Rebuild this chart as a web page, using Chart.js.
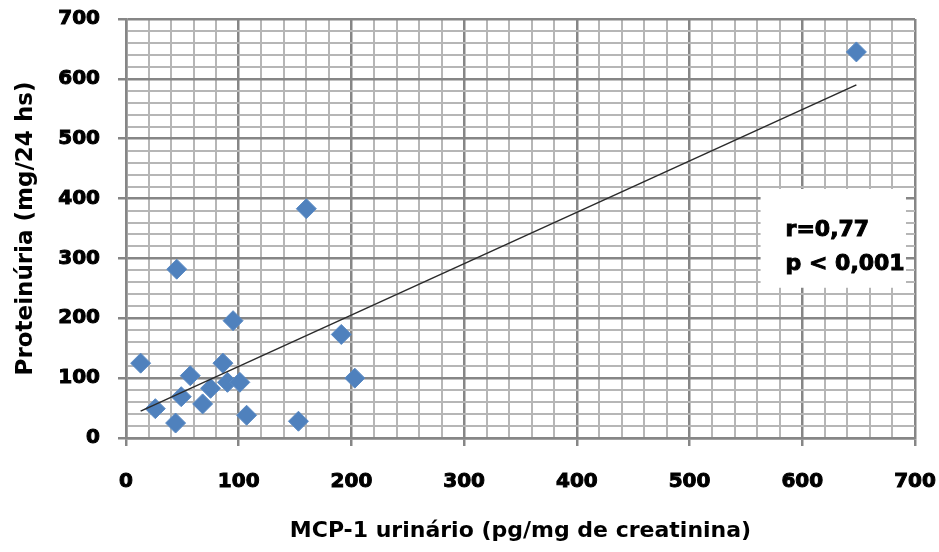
<!DOCTYPE html>
<html>
<head>
<meta charset="utf-8">
<script src="https://cdn.jsdelivr.net/npm/chart.js@4"></script>
<style>
  body { margin: 0; background: #fff; }
  #wrap { width: 939px; height: 552px; }
</style>
</head>
<body>
<div id="wrap"><canvas id="myScatter" width="939" height="552"></canvas></div>
<script>
// MCP-1 urinário (x) vs proteinúria (y)
var mcp1 = [648, 160, 45, 13, 95, 191, 203, 153, 107, 44, 26, 49, 57, 68, 75, 86, 90, 101];
var proteinuria = [645, 383, 282, 125, 196, 173, 100, 28, 38, 25, 49, 69, 104, 57, 83, 125, 93, 93];

// linha de tendência (extremos)
var trendX = [13, 648];
var trendY = [45, 590];

var statsLines = ['r=0,77', 'p < 0,001'];
var statsBox = { xMin: 563, xMax: 692, yMin: 251, yMax: 416 };

var majorColor = '#868686';
var minorColor = '#b6b6b6';
var fontFam = '"DejaVu Sans", Verdana, sans-serif';

var scatterPts = mcp1.map(function (v, i) { return { x: v, y: proteinuria[i] }; });
var trendPts = trendX.map(function (v, i) { return { x: v, y: trendY[i] }; });

function gridColor(ctx) {
  return ctx.tick && ctx.tick.value % 100 === 0 ? majorColor : minorColor;
}
function gridWidth(ctx) {
  return ctx.tick && ctx.tick.value % 100 === 0 ? 2.5 : 2;
}
function tickMarkColor(ctx) {
  return ctx.tick && ctx.tick.value % 100 === 0 ? majorColor : 'rgba(0,0,0,0)';
}
function labelEvery100(v) {
  return v % 100 === 0 ? v : '';
}

var statsPlugin = {
  id: 'statsPlugin',
  beforeDatasetsDraw: function (chart) {
    var c = chart.ctx;
    var xs = chart.scales.x, ys = chart.scales.y;
    var left = xs.getPixelForValue(statsBox.xMin);
    var right = xs.getPixelForValue(statsBox.xMax);
    var top = ys.getPixelForValue(statsBox.yMax);
    var bottom = ys.getPixelForValue(statsBox.yMin);
    c.save();
    c.fillStyle = '#fff';
    c.fillRect(left, top, right - left, bottom - top);
    c.fillStyle = '#000';
    c.strokeStyle = '#000';
    c.lineWidth = 1;
    c.font = 'bold 22px ' + fontFam;
    c.textBaseline = 'alphabetic';
    c.textAlign = 'left';
    c.strokeText(statsLines[0], left + 25, top + 47);
    c.fillText(statsLines[0], left + 25, top + 47);
    c.strokeText(statsLines[1], left + 25, top + 81);
    c.fillText(statsLines[1], left + 25, top + 81);
    c.restore();
  }
};

var ctx = document.getElementById('myScatter').getContext('2d');

var myChart = new Chart(ctx, {
  type: 'scatter',
  data: {
    datasets: [{
      type: 'line',
      data: trendPts,
      borderColor: '#2b2b2b',
      borderWidth: 1.5,
      pointRadius: 0,
      fill: false,
      order: 0
    }, {
      data: scatterPts,
      pointStyle: 'rectRot',
      pointRadius: 10,
      backgroundColor: '#4f81bd',
      borderColor: '#5a8ac4',
      borderWidth: 1,
      order: 1
    }]
  },
  options: {
    responsive: false,
    animation: false,
    layout: { padding: { left: 0, right: 24, top: 19, bottom: 0 } },
    plugins: {
      legend: { display: false },
      tooltip: { enabled: false }
    },
    scales: {
      x: {
        type: 'linear',
        min: 0,
        max: 700,
        afterFit: function (scale) {
          scale.height = 114;
          scale.paddingLeft = 0;
          scale.paddingRight = 0;
        },
        ticks: {
          stepSize: 20,
          autoSkip: false,
          maxRotation: 0,
          padding: 24,
          color: '#000',
          textStrokeColor: '#000',
          textStrokeWidth: 1,
          font: { family: fontFam, size: 20, weight: 'bold' },
          callback: labelEvery100
        },
        grid: {
          color: gridColor,
          lineWidth: gridWidth,
          tickColor: tickMarkColor,
          tickLength: 8
        },
        border: { color: majorColor, width: 2.5 },
        title: {
          display: true,
          text: 'MCP-1 urinário (pg/mg de creatinina)',
          color: '#000',
          font: { family: fontFam, size: 22, weight: 'bold', lineHeight: 1.2 },
          padding: { top: 0, bottom: 8 }
        }
      },
      y: {
        type: 'linear',
        min: 0,
        max: 700,
        afterFit: function (scale) {
          scale.width = 126;
          scale.paddingTop = 0;
          scale.paddingBottom = 0;
        },
        ticks: {
          stepSize: 20,
          autoSkip: false,
          padding: 18,
          color: '#000',
          textStrokeColor: '#000',
          textStrokeWidth: 1,
          font: { family: fontFam, size: 20, weight: 'bold' },
          callback: labelEvery100
        },
        grid: {
          color: gridColor,
          lineWidth: gridWidth,
          tickColor: tickMarkColor,
          tickLength: 8
        },
        border: { color: majorColor, width: 2.5 },
        title: {
          display: true,
          text: 'Proteinúria (mg/24 hs)',
          color: '#000',
          font: { family: fontFam, size: 23, weight: 'bold', lineHeight: 1.2 },
          padding: { top: 12, bottom: 0 }
        }
      }
    }
  },
  plugins: [statsPlugin]
});
</script>
</body>
</html>
